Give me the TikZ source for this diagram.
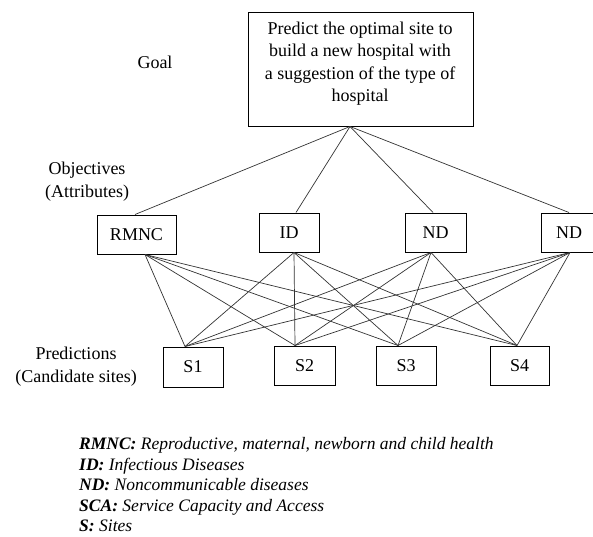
\documentclass[tikz,border=0pt]{standalone}
\usepackage{fontspec}
\setmainfont{Liberation Serif}
\begin{document}
\begin{tikzpicture}[x=1pt,y=-1pt,
  box/.style={draw=black,line width=1pt,inner sep=0pt,fill=white},
  lbl/.style={inner sep=0pt,align=center,font=\fontsize{18}{23}\selectfont},
  link/.style={draw=black!80,line width=0.7pt},
  every node/.style={font=\fontsize{18}{22.5}\selectfont}]
\useasboundingbox (0,0) rectangle (593,536);
\clip (0,0) rectangle (593,536);

% nodes
\node[box,minimum width=225pt,minimum height=114pt] (goal) at (360.5,69) {};
\node[lbl,font=\fontsize{18}{22.5}\selectfont] (goaltext) at (360,63.5) {Predict the optimal site to\\build a new hospital with\\a suggestion of the type of\\hospital};

\node[box,minimum width=79pt,minimum height=39pt] (rmnc) at (136.5,234.5) {RMNC};
\node[box,minimum width=60pt,minimum height=39pt] (id) at (289,232.5) {ID};
\node[box,minimum width=61pt,minimum height=39pt] (nda) at (435.5,232.5) {ND};
\node[box,minimum width=56pt,minimum height=39pt] (ndb) at (569,232.5) {ND};

\node[box,minimum width=60pt,minimum height=40pt] (s1) at (193,367) {S1};
\node[box,minimum width=61pt,minimum height=39pt] (s2) at (304.5,365.5) {S2};
\node[box,minimum width=60pt,minimum height=39pt] (s3) at (406,365.5) {S3};
\node[box,minimum width=59pt,minimum height=39pt] (s4) at (519.5,365.5) {S4};

% goal to objectives
\draw[link] ([xshift=-10.5pt]goal.south) -- ([xshift=-1.5pt]rmnc.north);
\draw[link] ([xshift=-10.5pt]goal.south) -- ([xshift=7pt]id.north);
\draw[link] ([xshift=-10.5pt]goal.south) -- ([xshift=-2.5pt]nda.north);
\draw[link] ([xshift=-10.5pt]goal.south) -- (ndb.north);

% objectives to sites
\foreach \o/\ox in {rmnc/8.5,id/5,nda/-4.5,ndb/1}{
  \foreach \s/\sx in {s1/-8,s2/-9.5,s3/-8,s4/-2.5}{
    \draw[link] ([xshift=\ox pt]\o.south) -- ([xshift=\sx pt]\s.north);
  }
}

% level labels
\node[lbl] (goallbl) at (155,62) {Goal};
\node[lbl] (objlbl) at (87,182) {Objectives\\(Attributes)};
\node[lbl] (predlbl) at (76,366.5) {Predictions\\(Candidate sites)};

% legend
\node[inner sep=0pt,align=left,anchor=west,font=\fontsize{17.5}{20.5}\selectfont\itshape] (legend) at (79,485)
{\textbf{RMNC:} Reproductive, maternal, newborn and child health\\
\textbf{ID:} Infectious Diseases\\
\textbf{ND:} Noncommunicable diseases\\
\textbf{SCA:} Service Capacity and Access\\
\textbf{S:} Sites};
\end{tikzpicture}
\end{document}
